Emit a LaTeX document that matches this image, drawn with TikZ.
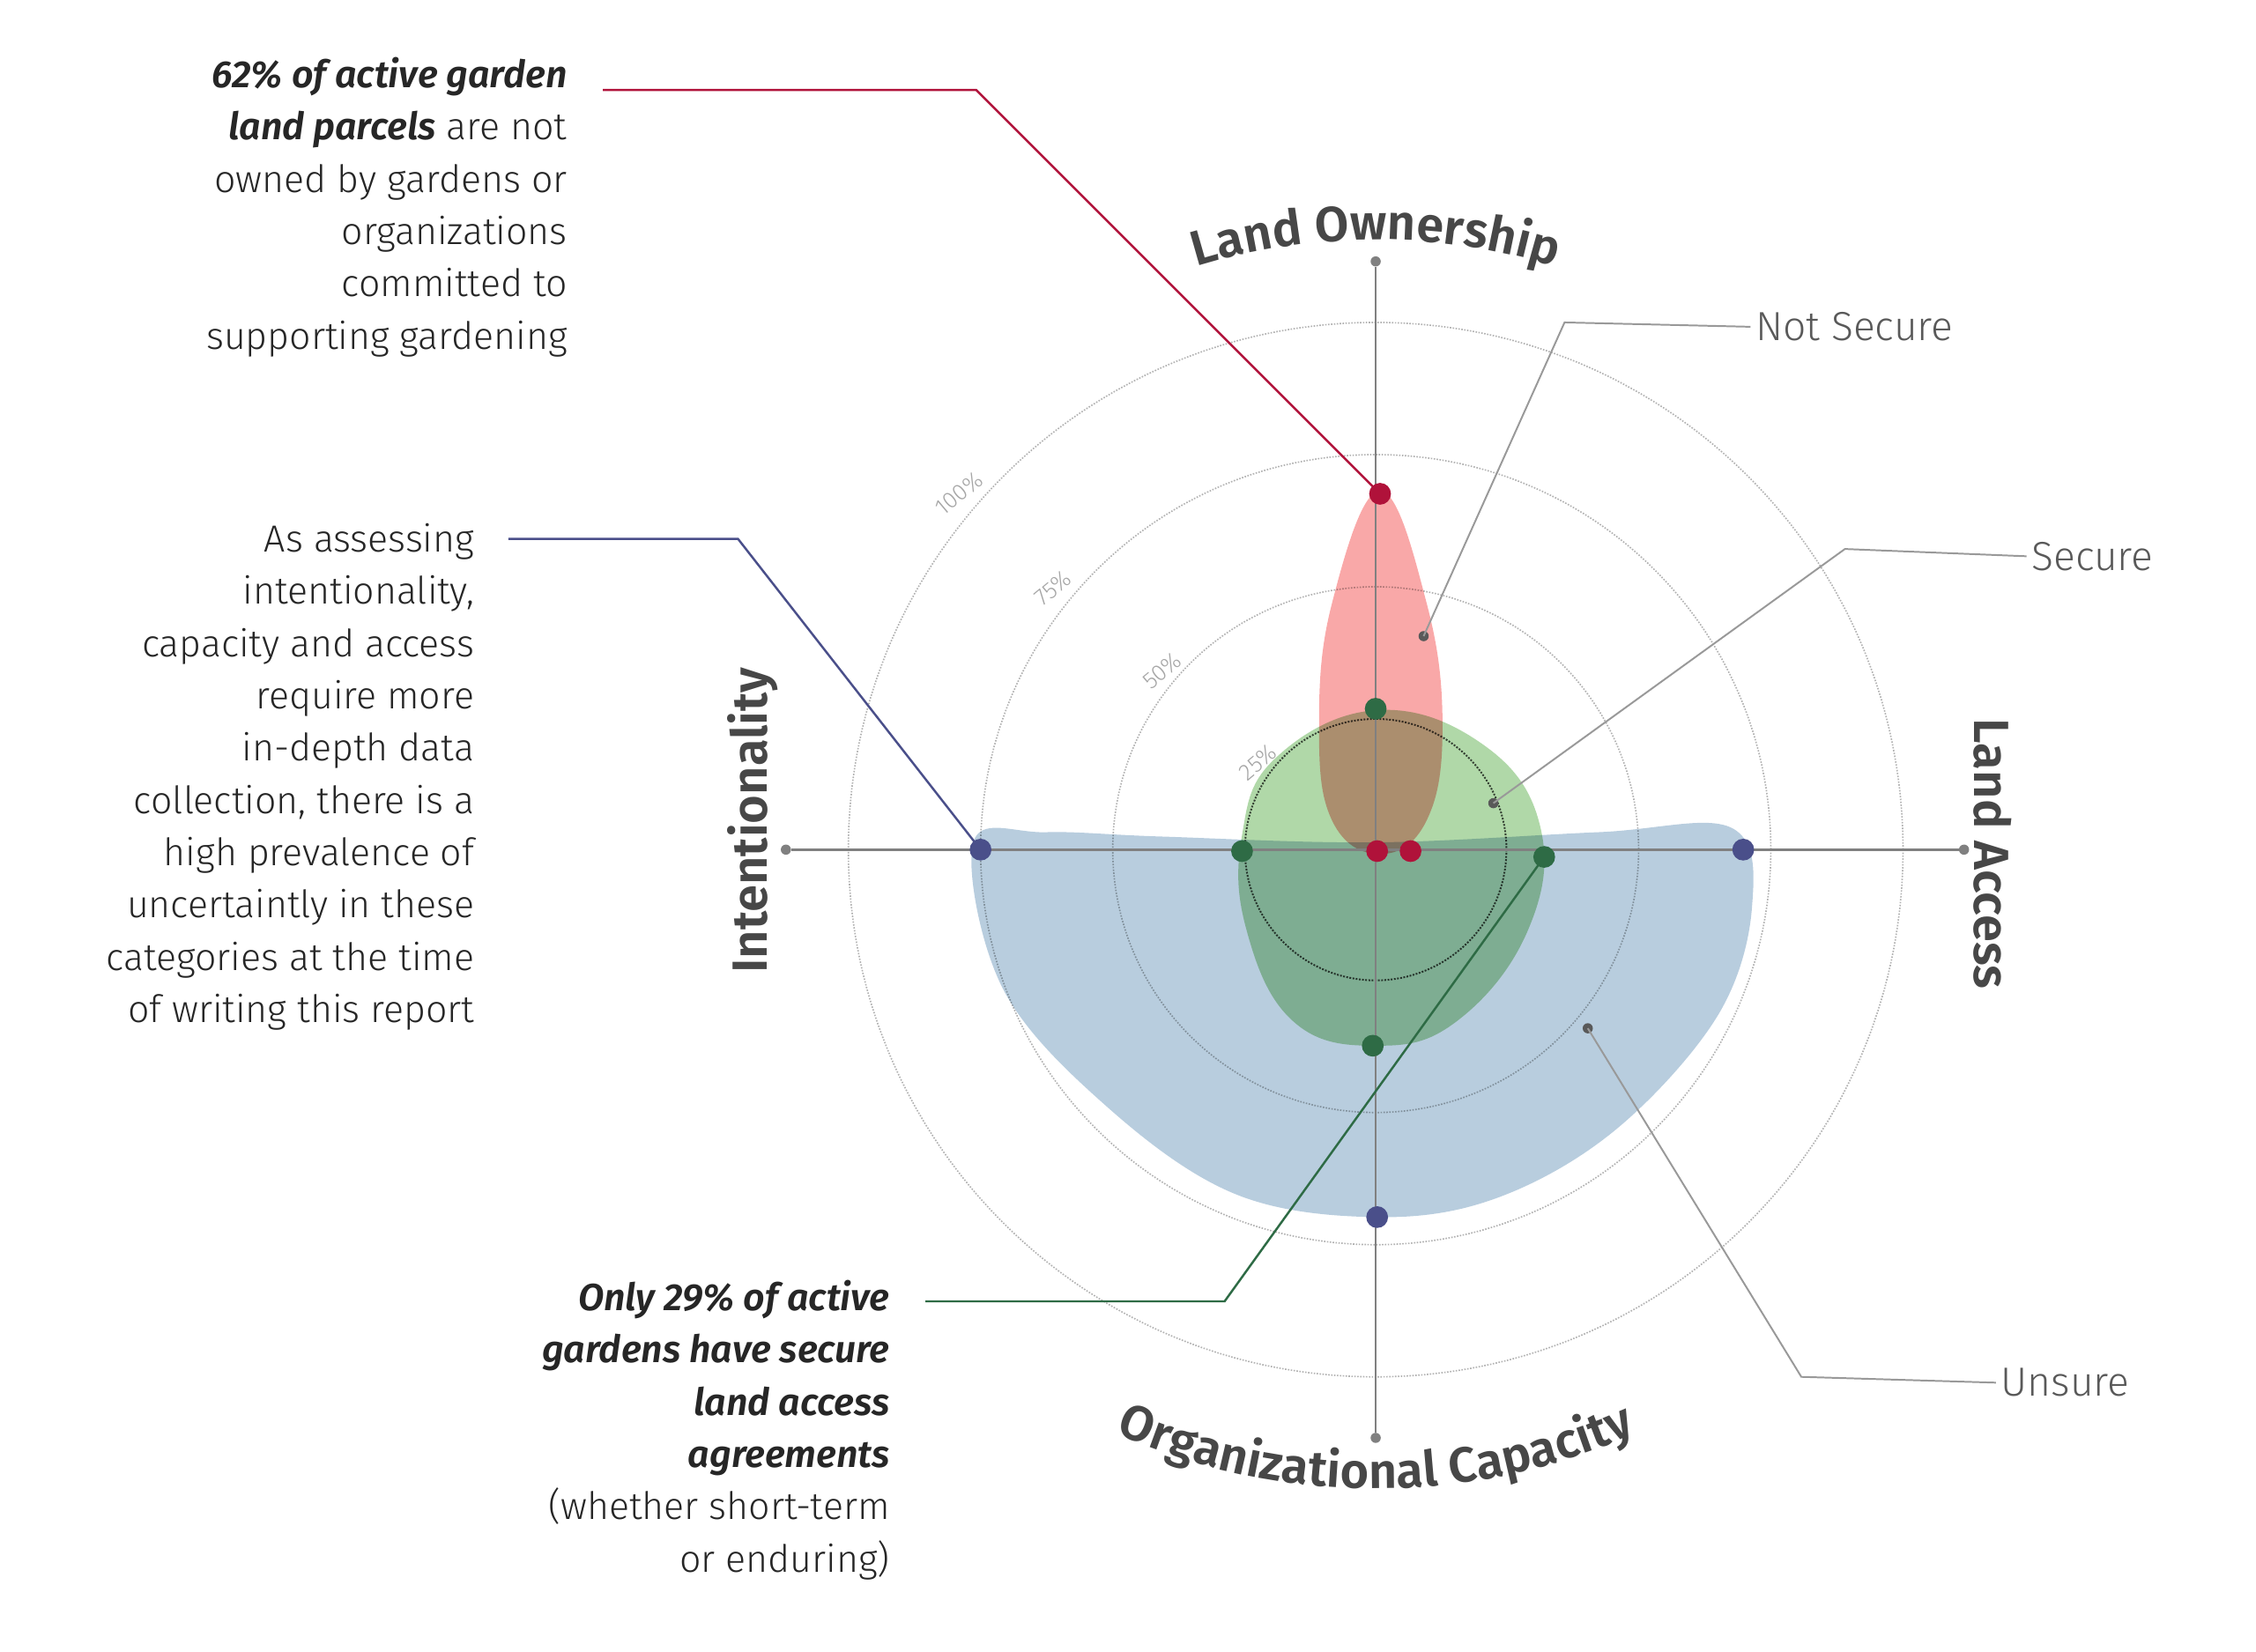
\documentclass[tikz,border=0pt]{standalone}
\usepackage{fontspec}
\setmainfont{Fira Sans}[UprightFont=* Light, BoldFont=* SemiBold, ItalicFont=* Light Italic, BoldItalicFont=* SemiBold Italic]
\usetikzlibrary{positioning, decorations.text}
\definecolor{redpt}{HTML}{B0123A}
\definecolor{greenpt}{HTML}{2E6B45}
\definecolor{bluept}{HTML}{4A4F8A}
\definecolor{redfill}{HTML}{F9A8A8}
\definecolor{greenfill}{HTML}{B0D8A8}
\definecolor{bluefill}{HTML}{B8CDDE}
\newcommand{\axisfont}{\fontsize{34}{40}\selectfont\bfseries\color{black!72}}
\tikzset{
  ring/.style={gray!60, densely dotted, line width=1pt},
  axis/.style={gray, line width=1.6pt},
  dot/.style={circle, fill=#1, inner sep=0pt, minimum size=15pt},
  tick/.style={circle, fill=gray, inner sep=0pt, minimum size=7pt},
  pct/.style={gray!70, font=\fontsize{16}{18}\selectfont, rotate=40},
  callout/.style={align=right, anchor=north east, text=black!85, font=\fontsize{26}{36}\selectfont},
  legend/.style={anchor=west, text=black!65, font=\fontsize{28}{32}\selectfont},
  lead/.style={gray!80, line width=1.2pt},
  petal/.style={fill=#1, blend mode=multiply},
  axislabel/.style={decorate, decoration={text along path, text align=center, text={|\axisfont|#1}}}
}
\begin{document}
\begin{tikzpicture}[x=1pt, y=-1pt]
  \useasboundingbox (0,0) rectangle (1553,1137);
  \coordinate (C) at (947,585);

  % rings
  \foreach \r in {181,272,363} \draw[ring] (C) circle[radius=\r];
  \draw[black!70, densely dotted, line width=1.2pt] (C) circle[radius=90];

  % shapes
  \path[petal=bluefill] plot[smooth cycle, tension=0.6] coordinates {(670,580) (720,573) (800,576) (947,580) (1100,573) (1192,570) (1206,625) (1182,700) (1112,778) (1030,825) (947,838) (850,822) (762,762) (690,680)};
  \path[petal=greenfill] plot[smooth cycle, tension=0.7] coordinates {(947,489) (1020,512) (1060,568) (1052,640) (1003,703) (947,720) (890,703) (858,640) (855,575) (878,522)};
  \path[petal=redfill] plot[smooth cycle, tension=0.7] coordinates {(950,338) (982,415) (993,500) (982,565) (950,588) (917,565) (908,500) (917,415)};

  % axes
  \node[tick] (T) at (947,180) {};
  \node[tick] (B) at (947,990) {};
  \node[tick] (L) at (541,585) {};
  \node[tick] (R) at (1352,585) {};
  \draw[axis] (T) -- (B);
  \draw[axis] (L) -- (R);

  \node[pct] at (660,340) {100\%};
  \node[pct] at (725,405) {75\%};
  \node[pct] at (800,462) {50\%};
  \node[pct] at (866,525) {25\%};

  % axis labels
  \path[axislabel={Land Ownership}] (C) ++(-122:420) arc[start angle=-122, end angle=-58, radius=420];
  \path[axislabel={Organizational Capacity}] (C) ++(122:440) arc[start angle=122, end angle=58, radius=440];
  \node[rotate=90, font=\axisfont] at (518,565) {Intentionality};
  \node[rotate=-90, font=\axisfont] at (1372,588) {Land Access};

  % dots
  \node[dot=redpt] (r1) at (950,340) {};
  \node[dot=redpt] (r2) at (948,586) {};
  \node[dot=redpt] (r3) at (971,586) {};
  \node[dot=greenpt] (g1) at (947,488) {};
  \node[dot=greenpt] (g2) at (855,586) {};
  \node[dot=greenpt] (g3) at (1063,590) {};
  \node[dot=greenpt] (g4) at (945,720) {};
  \node[dot=bluept] (b1) at (675,585) {};
  \node[dot=bluept] (b2) at (1200,585) {};
  \node[dot=bluept] (b3) at (948,838) {};

  % callouts
  \node[callout] (redtxt) at (394,36) {\textbf{\textit{62\% of active garden}}\\\textbf{\textit{land parcels}} are not\\owned by gardens or\\organizations\\committed to\\supporting gardening};
  \node[callout] (bluetxt) at (330,357) {As assessing\\intentionality,\\capacity and access\\require more\\in-depth data\\collection, there is a\\high prevalence of\\uncertaintly in these\\categories at the time\\of writing this report};
  \node[callout] (greentxt) at (616,878) {\textbf{\textit{Only 29\% of active}}\\\textbf{\textit{gardens have secure}}\\\textbf{\textit{land access}}\\\textbf{\textit{agreements}}\\(whether short-term\\or enduring)};
  \coordinate (ra) at (415,62);
  \coordinate (rb) at (672,62);
  \coordinate (ba) at (350,371);
  \coordinate (bb) at (508,371);
  \coordinate (ga) at (637,896);
  \coordinate (gb) at (843,896);
  \draw[redpt, line width=1.5pt] (ra) -- (rb) -- (r1.center);
  \draw[bluept, line width=1.5pt] (ba) -- (bb) -- (b1.center);
  \draw[greenpt, line width=1.5pt] (ga) -- (gb) -- (g3.center);

  % legend
  \node[legend] (ns) at (1205,225) {Not Secure};
  \node[legend] (sc) at (1395,383) {Secure};
  \node[legend] (us) at (1374,952) {Unsure};
  \node[circle, fill=gray!70!black, inner sep=0pt, minimum size=7pt] (nsd) at (980,438) {};
  \node[circle, fill=gray!70!black, inner sep=0pt, minimum size=7pt] (scd) at (1028,553) {};
  \node[circle, fill=gray!70!black, inner sep=0pt, minimum size=7pt] (usd) at (1093,708) {};
  \draw[lead] (ns.west) -- (1077,222) -- (nsd.center);
  \draw[lead] (sc.west) -- (1270,378) -- (scd.center);
  \draw[lead] (us.west) -- (1240,948) -- (usd.center);
\end{tikzpicture}
\end{document}
